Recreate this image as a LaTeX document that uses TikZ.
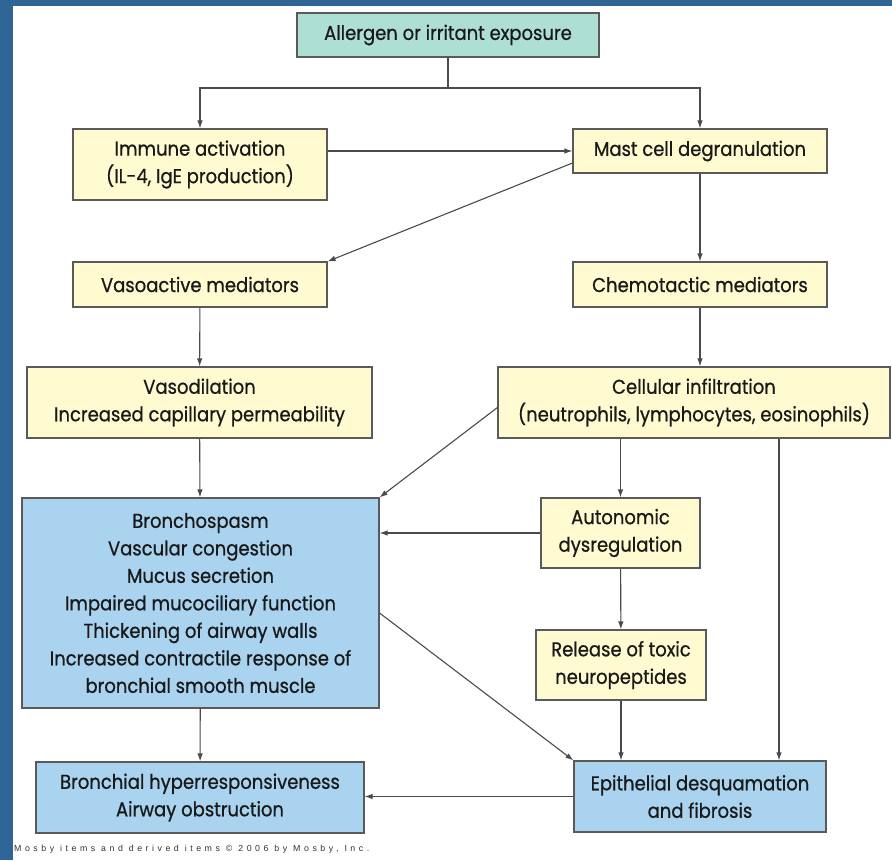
\documentclass[tikz,border=0pt]{standalone}
\usepackage{fontspec}
\setmainfont[FakeStretch=0.9, FakeBold=0.7]{Poppins}
\newfontfamily\creditfont[LetterSpace=40]{Liberation Sans}
\usetikzlibrary{arrows.meta}
\definecolor{frameblue}{HTML}{2F6496}
\definecolor{exposuregreen}{HTML}{AEDFD5}
\definecolor{stepyellow}{HTML}{FFFAD0}
\definecolor{effectblue}{HTML}{A9D3EF}
\definecolor{boxline}{HTML}{5A5A5A}
\definecolor{arrowgray}{HTML}{4A4A4A}

\begin{document}
\begin{tikzpicture}[x=1pt, y=-1pt,
    >={Latex[length=8pt,width=5.5pt]},
    box/.style={rectangle, draw=boxline, line width=1.1pt, align=center,
        inner sep=0pt, text=black!90, font=\fontsize{20}{27.5}\selectfont},
    startbox/.style={box, fill=exposuregreen},
    causebox/.style={box, fill=stepyellow},
    effectbox/.style={box, fill=effectblue},
    link/.style={draw=arrowgray, line width=1.1pt}]
        \useasboundingbox (0,0) rectangle (892,860);
        \fill[white] (0,0) rectangle (892,860);
        \fill[frameblue] (0,0) rectangle (892,6);
        \fill[frameblue] (0,0) rectangle (13,860);

        % Exposure
        \node[startbox, minimum width=302pt, minimum height=44pt] (exposure) at (448,35) {Allergen or irritant exposure};

        % Immune activation
        \node[causebox, minimum width=254pt, minimum height=71pt] (immune) at (200,164.5) {Immune activation\\(IL-4, IgE production)};

        % Mast cell
        \node[causebox, minimum width=254pt, minimum height=44pt] (mast) at (700,151) {Mast cell degranulation};

        % Vasoactive mediators
        \node[causebox, minimum width=254pt, minimum height=45pt] (vasoactive) at (200,284.5) {Vasoactive mediators};

        % Chemotactic mediators
        \node[causebox, minimum width=254pt, minimum height=45pt] (chemotactic) at (700,284.5) {Chemotactic mediators};

        % Vasodilation
        \node[causebox, minimum width=345pt, minimum height=71pt] (vasodilation) at (199.5,402.5) {Vasodilation\\Increased capillary permeability};

        % Cellular infiltration
        \node[causebox, minimum width=392pt, minimum height=71pt] (infiltration) at (694,402.5) {Cellular infiltration\\(neutrophils, lymphocytes, eosinophils)};

        % Bronchospasm
        \node[effectbox, minimum width=357pt, minimum height=210pt] (bronchospasm) at (200.5,603) {Bronchospasm\\Vascular congestion\\Mucus secretion\\Impaired mucociliary function\\Thickening of airway walls\\Increased contractile response of\\bronchial smooth muscle};

        % Autonomic dysregulation
        \node[causebox, minimum width=159pt, minimum height=70pt] (autonomic) at (620.5,533) {Autonomic\\dysregulation};

        % Neuropeptides
        \node[causebox, minimum width=170pt, minimum height=70pt] (neuropeptides) at (621,665) {Release of toxic\\neuropeptides};

        % Hyperresponsiveness
        \node[effectbox, minimum width=328pt, minimum height=71pt] (hyperresponse) at (200,797.5) {Bronchial hyperresponsiveness\\Airway obstruction};

        % Epithelial desquamation
        \node[effectbox, minimum width=252pt, minimum height=71pt] (epithelial) at (700,796.5) {Epithelial desquamation\\and fibrosis};

        % Credit
        \node[anchor=west, inner sep=0pt, text=black!80, font=\creditfont\fontsize{8.8}{10}\selectfont] (credit) at (14,849) {Mosby items and derived items \textcopyright\ 2006 by Mosby, Inc.};

        % Connections
        \coordinate (split) at (448,88);
        \draw[link] (exposure.south) -- (split);
        \draw[link, ->] (split) -| (immune);
        \draw[link, ->] (split) -| (mast);
        \draw[link, ->] (immune.east |- mast.west) -- (mast.west);
        \draw[link, ->] ([yshift=-12pt]mast.west) -- (vasoactive.north east);
        \draw[link, ->] (mast) -- (chemotactic);
        \draw[link, ->] (vasoactive) -- (vasodilation);
        \draw[link, ->] (chemotactic.south) -- (chemotactic.south |- infiltration.north);
        \draw[link, ->] (vasodilation) -- (bronchospasm);
        \draw[link, ->] ([yshift=-5pt]infiltration.west) -- (bronchospasm.north east);
        \draw[link, ->] (autonomic.north |- infiltration.south) -- (autonomic.north);
        \draw[link, ->] (autonomic.west) -- (autonomic.west -| bronchospasm.east);
        \draw[link, ->] (autonomic) -- (neuropeptides);
        \draw[link, ->] ([yshift=-10pt]bronchospasm.east) -- (epithelial.north west);
        \draw[link, ->] (neuropeptides.south) -- (neuropeptides.south |- epithelial.north);
        \draw[link, ->] ([xshift=85pt]infiltration.south) -- ([xshift=79pt]epithelial.north);
        \draw[link, ->] (bronchospasm) -- (hyperresponse);
        \draw[link, ->] (epithelial.west) -- (epithelial.west -| hyperresponse.east);
\end{tikzpicture}
\end{document}
